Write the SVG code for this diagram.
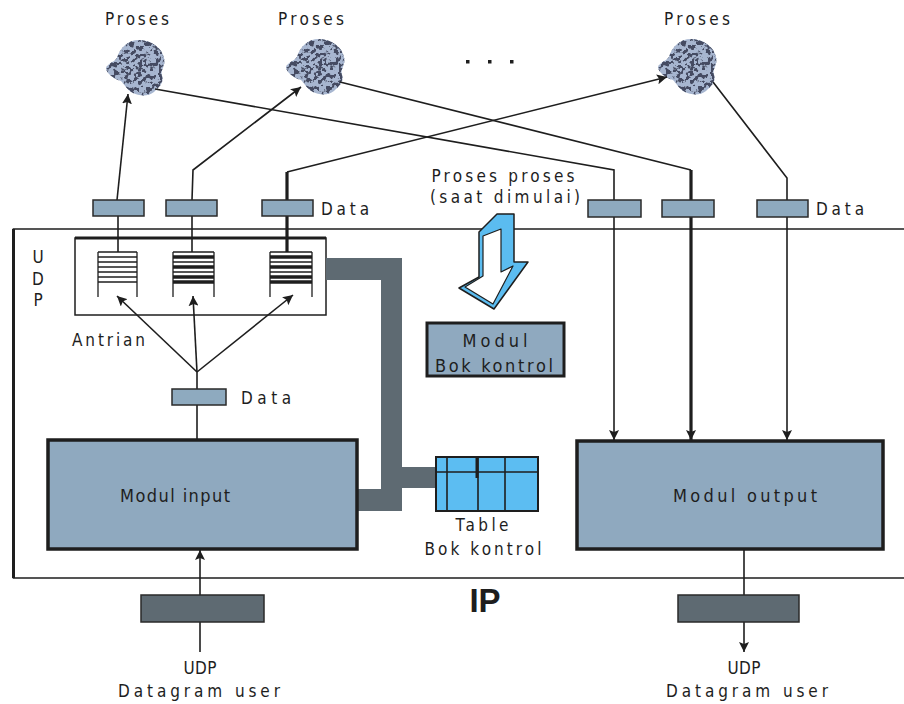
<svg xmlns="http://www.w3.org/2000/svg" width="904" height="704" viewBox="0 0 904 704">
  <style>
    .t { font-family: "DejaVu Sans Condensed", "DejaVu Sans", "Liberation Sans", sans-serif; fill: #1e1e1e; font-size: 17px; }
    .pkt { fill: #8eaabf; stroke: #2a2a2a; stroke-width: 1.5; }
    .dpkt { fill: #5e6a72; stroke: #2a2a2a; stroke-width: 1.5; }
    .mod { fill: #8fa9bf; stroke: #1e1e1e; stroke-width: 3.5; }
    .ln { fill: none; stroke: #1e1e1e; stroke-width: 1.6; }
    .thk { fill: none; stroke: #1e1e1e; stroke-width: 3.2; }
    .q { stroke: #1e1e1e; stroke-width: 1.3; }
    .qb { stroke: #1e1e1e; stroke-width: 3.4; }
    .blob { fill: #a7b6d0; }
  </style>
  <defs>
    <marker id="ah" viewBox="0 0 10 10" refX="10" refY="5" markerWidth="10" markerHeight="10" markerUnits="userSpaceOnUse" orient="auto">
      <path d="M0,0 L10,5 L0,10 L2,5 Z" fill="#1e1e1e"/>
    </marker>
    <filter id="grain" x="-10%" y="-10%" width="120%" height="120%">
      <feTurbulence type="fractalNoise" baseFrequency="0.24" numOctaves="2" seed="11" result="n"/>
      <feColorMatrix in="n" type="matrix" values="0 0 0 0 0.06  0 0 0 0 0.07  0 0 0 0 0.12  -14 0 0 0 7.1" result="dots"/>
      <feComposite in="dots" in2="SourceGraphic" operator="in" result="d"/>
      <feMerge><feMergeNode in="SourceGraphic"/><feMergeNode in="d"/></feMerge>
    </filter>
    <path id="blobShape" d="M12,20 C15,9 24,1 36,2 C47,3 57,10 59,20 C61,28 55,32 57,38 C59,44 55,49 49,54 C43,59 34,58 28,55 C22,52 20,47 16,43 C10,41 3,37 1,31 C1,26 8,25 12,20 Z"/>
  </defs>

  <rect width="904" height="704" fill="#ffffff"/>

  <!-- IP frame -->
  <g id="ip">
    <path d="M904,229 L13.5,229 L13.5,578 L904,578" fill="none" stroke="#1e1e1e" stroke-width="1.6"/>
    <line x1="13.5" y1="229" x2="13.5" y2="578" stroke="#1e1e1e" stroke-width="3"/>
    <text x="485" y="612" text-anchor="middle" style="font-family:'Liberation Sans',sans-serif;font-weight:bold;font-size:33px;fill:#1e1e1e">IP</text>
  </g>

  <!-- UDP frame (drawn under the connectors) -->
  <g id="udp">
    <rect x="75" y="238" width="251" height="77" fill="#ffffff" stroke="#1e1e1e" stroke-width="1.5"/>
    <line x1="75" y1="238" x2="326" y2="238" stroke="#1e1e1e" stroke-width="3"/>
    <text class="t" x="38" y="263" text-anchor="middle">U</text>
    <text class="t" x="38" y="285" text-anchor="middle">D</text>
    <text class="t" x="38" y="306" text-anchor="middle">P</text>
    <text class="t" x="72" y="346" textLength="73" lengthAdjust="spacing">Antrian</text>
  </g>

  <!-- Processes -->
  <g id="proses1">
    <text class="t" x="137" y="25" text-anchor="middle" textLength="64" lengthAdjust="spacing">Proses</text>
    <g transform="translate(105,38)" filter="url(#grain)"><use href="#blobShape" class="blob"/></g>
  </g>
  <g id="proses2">
    <text class="t" x="311" y="25" text-anchor="middle" textLength="66" lengthAdjust="spacing">Proses</text>
    <g transform="translate(285,37)" filter="url(#grain)"><use href="#blobShape" class="blob"/></g>
  </g>
  <g id="proses3">
    <text class="t" x="697" y="25" text-anchor="middle" textLength="66" lengthAdjust="spacing">Proses</text>
    <g transform="translate(657,37)" filter="url(#grain)"><use href="#blobShape" class="blob"/></g>
  </g>
  <g id="ellipsis" fill="#1e1e1e">
    <rect x="466" y="60" width="3.5" height="3.5"/>
    <rect x="488" y="60" width="3.5" height="3.5"/>
    <rect x="510" y="60" width="3.5" height="3.5"/>
  </g>

  <!-- Connectors -->
  <g id="connectors">
    <!-- ports to processes -->
    <polyline class="ln" points="117,200 128,94" marker-end="url(#ah)"/>
    <polyline class="ln" points="192,200 193,170 301,87" marker-end="url(#ah)"/>
    <polyline class="thk" points="287,200 287,172"/>
    <polyline class="ln" points="287,172 667,77" marker-end="url(#ah)"/>
    <!-- processes to output ports -->
    <polyline class="ln" points="155,89 614,170 614,200"/>
    <polyline class="ln" points="340,82 691,170"/>
    <polyline class="thk" points="691,170 691,200"/>
    <polyline class="ln" points="713,82 787,178 787,200"/>
    <!-- ports to queues -->
    <line class="ln" x1="118" y1="216" x2="118" y2="252"/>
    <line class="ln" x1="192" y1="216" x2="192" y2="252"/>
    <line class="thk" x1="287" y1="216" x2="287" y2="252"/>
    <!-- output ports to Modul output -->
    <line class="ln" x1="614" y1="217" x2="614" y2="440" marker-end="url(#ah)"/>
    <line class="thk" x1="691" y1="217" x2="691" y2="440" marker-end="url(#ah)"/>
    <line class="ln" x1="787" y1="217" x2="787" y2="440" marker-end="url(#ah)"/>
    <!-- Modul input to queues -->
    <line class="ln" x1="197" y1="440" x2="197" y2="405"/>
    <line class="ln" x1="197" y1="389" x2="197" y2="372"/>
    <line class="ln" x1="197" y1="372" x2="117" y2="296" marker-end="url(#ah)"/>
    <line class="ln" x1="197" y1="372" x2="193" y2="296" marker-end="url(#ah)"/>
    <line class="ln" x1="197" y1="372" x2="293" y2="295" marker-end="url(#ah)"/>
    <!-- IP boundary -->
    <line class="ln" x1="200" y1="652" x2="200" y2="550" marker-end="url(#ah)"/>
    <line class="ln" x1="744" y1="549" x2="744" y2="652" marker-end="url(#ah)"/>
    <!-- control path -->
    <path d="M326,258 L402,258 L402,467 L436,467 L436,488 L402,488 L402,511 L355,511 L355,489 L381,489 L381,280 L326,280 Z" fill="#5e6a72"/>
  </g>

  <!-- Ports -->
  <g id="port-in1"><rect class="pkt" x="93" y="200" width="51" height="16"/></g>
  <g id="port-in2"><rect class="pkt" x="166" y="200" width="51" height="16"/></g>
  <g id="port-in3">
    <rect class="pkt" x="262" y="200" width="51" height="16"/>
    <text class="t" x="321" y="215" textLength="48" lengthAdjust="spacing">Data</text>
  </g>
  <g id="port-out1"><rect class="pkt" x="588" y="200" width="53" height="17"/></g>
  <g id="port-out2"><rect class="pkt" x="662" y="200" width="52" height="17"/></g>
  <g id="port-out3">
    <rect class="pkt" x="757" y="200" width="51" height="17"/>
    <text class="t" x="816" y="215" textLength="48" lengthAdjust="spacing">Data</text>
  </g>

  <!-- Start notice -->
  <g id="start-note">
    <text class="t" x="503" y="182" text-anchor="middle" textLength="143" lengthAdjust="spacing">Proses proses</text>
    <text class="t" x="505" y="203" text-anchor="middle" textLength="150" lengthAdjust="spacing">(saat dimulai)</text>
    <path d="M479,232 L497,214 L514,214 L514,262 L528,262 L494,309 L459,288 L479,277 Z" fill="#5bbcf0" stroke="#1e1e1e" stroke-width="1.5" stroke-linejoin="round"/>
    <path d="M483,236 L501,229 L501,272 L513,266 L493,304 L465,287 L483,276 Z" fill="#ffffff" stroke="#1e1e1e" stroke-width="1.2" stroke-linejoin="round"/>
  </g>

  <!-- Queues -->
  <g id="queue1">
    <line class="q" x1="98" y1="252" x2="98" y2="297"/>
    <line class="q" x1="137" y1="252" x2="137" y2="297"/>
    <line class="q" x1="98" y1="252" x2="137" y2="252"/>
    <line class="q" x1="98" y1="257" x2="137" y2="257"/>
    <line class="q" x1="98" y1="262" x2="137" y2="262"/>
    <line class="q" x1="98" y1="267" x2="137" y2="267"/>
    <line class="q" x1="98" y1="272" x2="137" y2="272"/>
    <line class="q" x1="98" y1="277" x2="137" y2="277"/>
    <line class="q" x1="98" y1="282" x2="137" y2="282"/>
  </g>
  <g id="queue2">
    <line class="q" x1="173" y1="252" x2="173" y2="297"/>
    <line class="q" x1="214" y1="252" x2="214" y2="297"/>
    <line class="q" x1="173" y1="252" x2="214" y2="252"/>
    <line class="qb" x1="173" y1="257" x2="214" y2="257"/>
    <line class="q" x1="173" y1="262" x2="214" y2="262"/>
    <line class="qb" x1="173" y1="267" x2="214" y2="267"/>
    <line class="q" x1="173" y1="272" x2="214" y2="272"/>
    <line class="qb" x1="173" y1="277" x2="214" y2="277"/>
    <line class="qb" x1="173" y1="282" x2="214" y2="282"/>
  </g>
  <g id="queue3">
    <line class="q" x1="270" y1="252" x2="270" y2="297"/>
    <line class="q" x1="312" y1="252" x2="312" y2="297"/>
    <line class="q" x1="270" y1="252" x2="312" y2="252"/>
    <line class="qb" x1="270" y1="257" x2="312" y2="257"/>
    <line class="q" x1="270" y1="262" x2="312" y2="262"/>
    <line class="qb" x1="270" y1="267" x2="312" y2="267"/>
    <line class="q" x1="270" y1="272" x2="312" y2="272"/>
    <line class="qb" x1="270" y1="277" x2="312" y2="277"/>
    <line class="qb" x1="270" y1="282" x2="312" y2="282"/>
  </g>

  <!-- Data packet between input module and queues -->
  <g id="data-mid">
    <rect class="pkt" x="172" y="389" width="54" height="16"/>
    <text class="t" x="241" y="404" textLength="50" lengthAdjust="spacing">Data</text>
  </g>

  <!-- Control module -->
  <g id="modul-bok">
    <rect x="427" y="323" width="137" height="53" fill="#8fa9bf" stroke="#1e1e1e" stroke-width="3"/>
    <text class="t" x="495" y="347" text-anchor="middle" style="font-size:18px" textLength="65" lengthAdjust="spacing">Modul</text>
    <text class="t" x="494" y="372" text-anchor="middle" style="font-size:18px" textLength="118" lengthAdjust="spacing">Bok kontrol</text>
  </g>

  <!-- Input / output modules -->
  <g id="modul-input">
    <rect class="mod" x="48" y="440" width="309" height="109"/>
    <text class="t" x="175" y="502" text-anchor="middle" style="font-size:18px" textLength="110" lengthAdjust="spacing">Modul input</text>
  </g>
  <g id="modul-output">
    <rect class="mod" x="577" y="441" width="306" height="108"/>
    <text class="t" x="745" y="502" text-anchor="middle" style="font-size:18px" textLength="144" lengthAdjust="spacing">Modul output</text>
  </g>

  <!-- Control block table -->
  <g id="table-bok">
    <rect x="436" y="457" width="102" height="54" fill="#5cbdf2" stroke="#1e1e1e" stroke-width="2"/>
    <line x1="436" y1="472" x2="538" y2="472" stroke="#1e1e1e" stroke-width="1.6"/>
    <line x1="447" y1="457" x2="447" y2="511" stroke="#1e1e1e" stroke-width="1.6"/>
    <line x1="478" y1="457" x2="478" y2="511" stroke="#1e1e1e" stroke-width="1.6"/>
    <line x1="505" y1="457" x2="505" y2="511" stroke="#1e1e1e" stroke-width="1.6"/>
    <line x1="477" y1="457" x2="477" y2="478" stroke="#1e1e1e" stroke-width="3"/>
    <text class="t" x="482" y="531" text-anchor="middle" textLength="53" lengthAdjust="spacing">Table</text>
    <text class="t" x="483" y="555" text-anchor="middle" textLength="117" lengthAdjust="spacing">Bok kontrol</text>
  </g>

  <!-- User datagrams -->
  <g id="dgram-in">
    <rect class="dpkt" x="141" y="595" width="123" height="27"/>
    <text class="t" x="200" y="674" text-anchor="middle" textLength="33" lengthAdjust="spacing">UDP</text>
    <text class="t" x="199" y="697" text-anchor="middle" textLength="162" lengthAdjust="spacing">Datagram user</text>
  </g>
  <g id="dgram-out">
    <rect class="dpkt" x="678" y="595" width="121" height="27"/>
    <text class="t" x="744" y="674" text-anchor="middle" textLength="33" lengthAdjust="spacing">UDP</text>
    <text class="t" x="747" y="697" text-anchor="middle" textLength="162" lengthAdjust="spacing">Datagram user</text>
  </g>
</svg>
